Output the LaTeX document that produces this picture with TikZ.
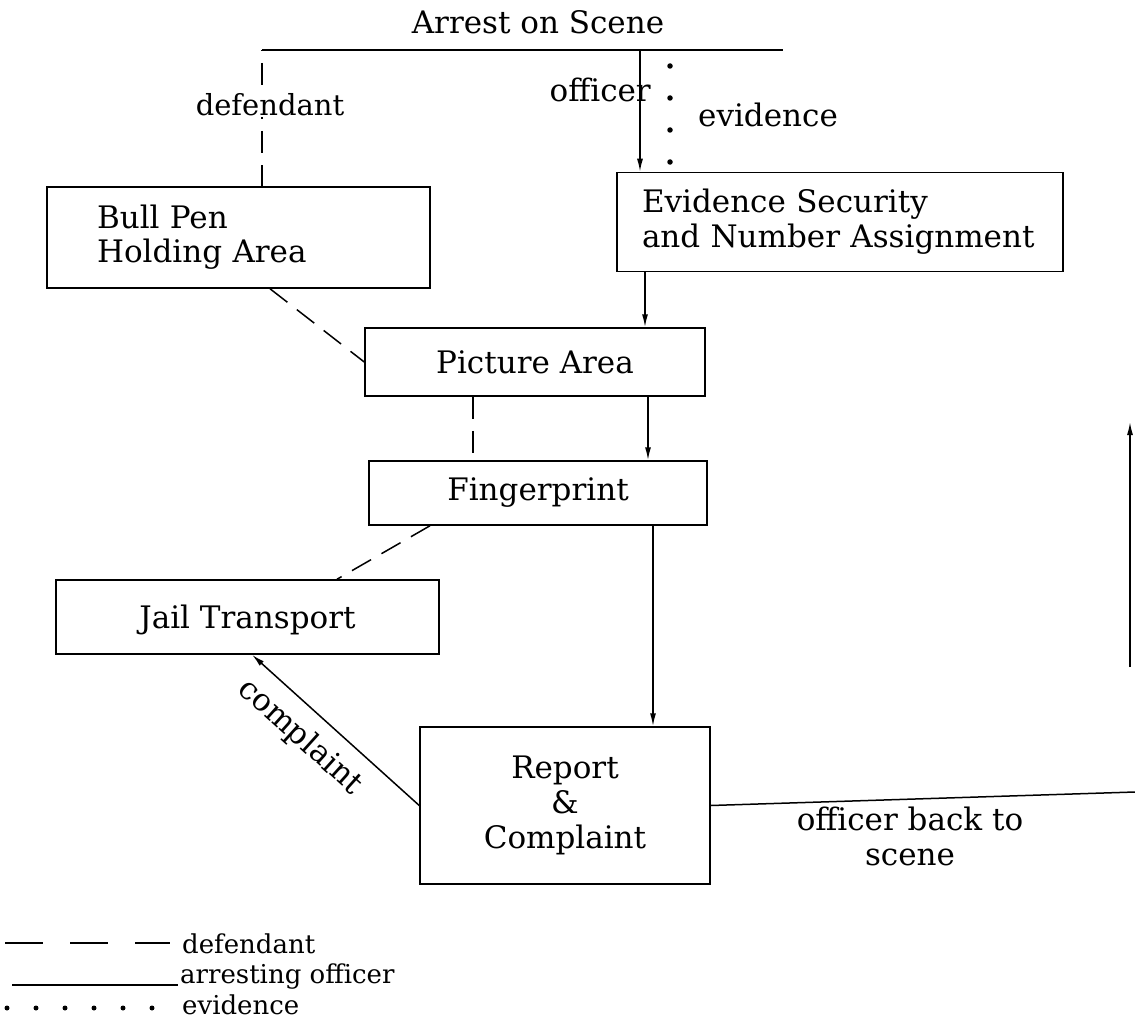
\documentclass[tikz,border=0pt]{standalone}
\usepackage{fontspec}
\setmainfont{DejaVu Serif}
\usetikzlibrary{arrows.meta}
\begin{document}
\begin{tikzpicture}[x=1pt,y=-1pt,
  box/.style={draw,line width=1.5pt,rectangle,inner sep=0pt,font=\fontsize{31}{34}\selectfont},
  lab/.style={font=\fontsize{31}{35}\selectfont,inner sep=1pt},
  leg/.style={font=\fontsize{26}{30}\selectfont,inner sep=0pt},
  ln/.style={line width=1.5pt},
  dfd/.style={ln,dash pattern=on 22pt off 12pt},
  arr/.style={ln,-{Latex[length=13pt,width=6pt]}},
  dots/.style={line width=5.5pt,line cap=round,dash pattern=on 0pt off 32pt}
]
\useasboundingbox (0,0) rectangle (1135,1022);

% boxes
\node[box,minimum width=383pt,minimum height=101pt,text width=283pt,align=left] (bull) at (238.5,237.5) {Bull Pen\\Holding Area};
\node[box,minimum width=446pt,minimum height=99pt,text width=396pt,align=left,font=\fontsize{31}{35}\selectfont] (evid) at (840,222) {Evidence Security\\and Number Assignment};
\node[box,minimum width=340pt,minimum height=68pt] (pict) at (535,362) {Picture Area};
\node[box,minimum width=338pt,minimum height=64pt] (fing) at (538,493) {Fingerprint};
\node[box,minimum width=383pt,minimum height=74pt,text height=22pt,text depth=0pt] (jail) at (247.5,617) {Jail Transport};
\node[box,minimum width=290pt,minimum height=157pt,align=center,font=\fontsize{31}{35}\selectfont] (rep) at (565,805.5) {Report\\\&\\Complaint};

% top
\node[lab,anchor=base] (arrest) at (538,34) {Arrest on Scene};
\coordinate (tl) at (262,50);
\coordinate (tr) at (783,50);
\draw[ln] (tl) -- (tr);
\draw[dfd,dash phase=21pt] (tl) -- (bull.north -| tl) node[pos=0.4,lab,fill=white,xshift=8pt,font=\fontsize{29}{34}\selectfont] (defl) {defendant};
\coordinate (x640) at (640,0);
\node[lab,anchor=base east] (offl) at (652,102) {officer};
\draw[arr] (tl -| x640) -- (evid.north -| x640);
\coordinate (ev1) at (670,66);
\coordinate (ev2) at (670,164);
\draw[dots] (ev1) -- (ev2);
\node[lab,anchor=base west] (evl) at (697,127) {evidence};

% flow
\coordinate (x645) at (645,0);
\draw[arr] (evid.south -| x645) -- (pict.north -| x645);
\coordinate (x648) at (648,0);
\draw[arr] (pict.south -| x648) -- (fing.north -| x648);
\coordinate (x653) at (653,0);
\draw[arr] (fing.south -| x653) -- (rep.north -| x653);
\coordinate (x473) at (473,0);
\draw[dfd] (pict.south -| x473) -- (fing.north -| x473);
\coordinate (x270) at (270,0);
\draw[dfd] (bull.south -| x270) -- (pict.west);
\coordinate (x430) at (430,0);
\coordinate (x337) at (337,0);
\draw[dfd] (fing.south -| x430) -- (jail.north -| x337);
\coordinate (x252) at (252,0);
\draw[arr] (rep.west) -- (jail.south -| x252);
\node[lab,rotate=-42] (compl) at (300,737) {complaint};

% officer back to scene
\coordinate (obend) at (1135,792);
\draw[ln] (rep.east) -- (obend);
\node[lab,align=center] (obl) at (910,836) {officer back to\\scene};
\coordinate (ua1) at (1130,667);
\coordinate (ua2) at (1130,422);
\draw[arr] (ua1) -- (ua2);

% legend
\coordinate (l1a) at (5,943);
\coordinate (l1b) at (170,943);
\draw[ln,dash pattern=on 38pt off 27pt] (l1a) -- (l1b);
\node[leg,anchor=base west] (ld) at (182,953) {defendant};
\coordinate (l2a) at (12,985);
\coordinate (l2b) at (178,985);
\draw[ln] (l2a) -- (l2b);
\node[leg,anchor=base west] (la) at (180,983) {arresting officer};
\coordinate (l3a) at (7,1008);
\coordinate (l3b) at (154,1008);
\draw[line width=5pt,line cap=round,dash pattern=on 0pt off 29pt] (l3a) -- (l3b);
\node[leg,anchor=base west] (le) at (182,1014) {evidence};
\end{tikzpicture}
\end{document}
